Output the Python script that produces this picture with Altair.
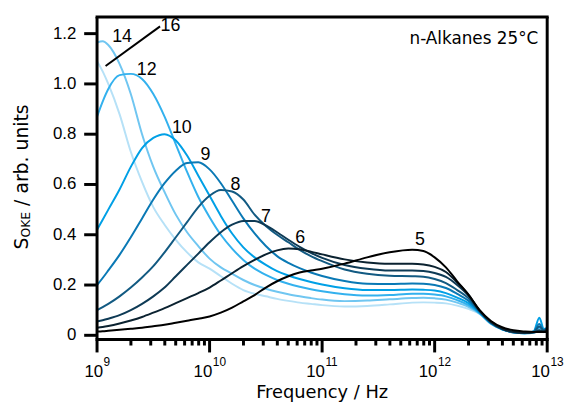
import altair as alt
import pandas as pd

# ---------------- data ----------------
log_freq = [9.0, 9.05, 9.1, 9.2, 9.3, 9.4, 9.5, 9.6, 9.7, 9.8, 9.9, 10.0, 10.1, 10.2, 10.3,
            10.4, 10.5, 10.6, 10.7, 10.8, 10.9, 11.0, 11.2, 11.4, 11.6, 11.8, 11.9, 12.0,
            12.1, 12.2, 12.3, 12.4, 12.5, 12.6, 12.7, 12.8, 12.88, 12.93, 12.97, 13.0]

s16 = [1.09, 1.05, 1.0, 0.88, 0.73, 0.61, 0.51, 0.44, 0.38, 0.33, 0.29, 0.265, 0.235, 0.205, 0.18,
       0.165, 0.155, 0.145, 0.137, 0.13, 0.125, 0.12, 0.115, 0.117, 0.123, 0.13, 0.131, 0.13,
       0.127, 0.118, 0.105, 0.085, 0.045, 0.023, 0.011, 0.008, 0.01, 0.015, 0.012, 0.02]
s14 = [1.165, 1.17, 1.155, 1.08, 0.96, 0.80, 0.67, 0.57, 0.48, 0.41, 0.355, 0.305, 0.27, 0.245, 0.22,
       0.2, 0.185, 0.173, 0.163, 0.155, 0.148, 0.142, 0.136, 0.138, 0.143, 0.148, 0.149, 0.147,
       0.142, 0.13, 0.113, 0.086, 0.046, 0.024, 0.012, 0.008, 0.01, 0.02, 0.015, 0.022]
s12 = [0.87, 0.93, 0.98, 1.035, 1.04, 1.02, 0.96, 0.87, 0.76, 0.65, 0.55, 0.47, 0.4, 0.345, 0.3,
       0.265, 0.24, 0.22, 0.205, 0.193, 0.183, 0.175, 0.163, 0.158, 0.16, 0.165, 0.165, 0.162,
       0.155, 0.14, 0.12, 0.088, 0.047, 0.024, 0.012, 0.008, 0.012, 0.03, 0.018, 0.025]
s10 = [0.42, 0.46, 0.5, 0.58, 0.67, 0.745, 0.785, 0.80, 0.775, 0.715, 0.635, 0.555, 0.475, 0.405, 0.35,
       0.31, 0.28, 0.255, 0.238, 0.224, 0.212, 0.202, 0.187, 0.18, 0.18, 0.182, 0.181, 0.178,
       0.168, 0.15, 0.128, 0.09, 0.048, 0.024, 0.012, 0.008, 0.015, 0.07, 0.025, 0.03]
s9 = [0.2, 0.228, 0.258, 0.32, 0.39, 0.465, 0.54, 0.605, 0.655, 0.685, 0.688, 0.66, 0.605, 0.535, 0.465,
      0.405, 0.355, 0.315, 0.288, 0.267, 0.25, 0.236, 0.216, 0.205, 0.204, 0.206, 0.205, 0.2,
      0.188, 0.165, 0.138, 0.093, 0.049, 0.025, 0.012, 0.009, 0.015, 0.045, 0.02, 0.028]
s8 = [0.1, 0.112, 0.125, 0.155, 0.19, 0.23, 0.275, 0.33, 0.39, 0.45, 0.51, 0.555, 0.578, 0.572, 0.54,
      0.48, 0.435, 0.4, 0.37, 0.34, 0.315, 0.295, 0.262, 0.245, 0.237, 0.235, 0.233, 0.224,
      0.208, 0.18, 0.148, 0.095, 0.05, 0.025, 0.012, 0.009, 0.013, 0.035, 0.02, 0.03]
s7 = [0.055, 0.06, 0.066, 0.08, 0.1, 0.125, 0.155, 0.19, 0.235, 0.28, 0.325, 0.37, 0.41, 0.44, 0.455,
      0.455, 0.437, 0.41, 0.38, 0.352, 0.328, 0.308, 0.28, 0.265, 0.258, 0.258, 0.256, 0.248,
      0.232, 0.2, 0.158, 0.097, 0.052, 0.026, 0.013, 0.009, 0.012, 0.02, 0.015, 0.025]
s6 = [0.03, 0.033, 0.037, 0.047, 0.059, 0.073, 0.09, 0.108, 0.128, 0.148, 0.168, 0.19, 0.218, 0.247, 0.275,
      0.3, 0.322, 0.338, 0.345, 0.342, 0.333, 0.322, 0.302, 0.29, 0.285, 0.285, 0.282, 0.272,
      0.252, 0.21, 0.162, 0.098, 0.054, 0.027, 0.014, 0.01, 0.012, 0.015, 0.015, 0.02]
s5 = [0.015, 0.016, 0.018, 0.022, 0.026, 0.03, 0.036, 0.042, 0.05, 0.058, 0.066, 0.075, 0.09, 0.11, 0.135,
      0.16, 0.19, 0.215, 0.235, 0.25, 0.258, 0.265, 0.285, 0.31, 0.33, 0.34, 0.335, 0.31,
      0.27, 0.215, 0.162, 0.1, 0.057, 0.032, 0.02, 0.015, 0.013, 0.013, 0.013, 0.014]

series_names = ["16", "14", "12", "10", "9", "8", "7", "6", "5"]
series_values = [s16, s14, s12, s10, s9, s8, s7, s6, s5]
series_colors = ["#b6e1f7", "#70c6f1", "#33b1ee", "#00a0e6", "#0a79b5",
                 "#125a82", "#0e3a55", "#0b2230", "#000000"]

label_text = ["14", "16", "12", "10", "9", "8", "7", "6", "5"]
label_logf = [9.222, 9.652, 9.441, 9.753, 9.964, 10.23, 10.50, 10.805, 11.87]
label_value = [1.187, 1.229, 1.055, 0.823, 0.716, 0.598, 0.472, 0.387, 0.380]

leader_logf = [9.076, 9.56]
leader_value = [1.071, 1.229]

y_ticks = [0, 0.2, 0.4, 0.6, 0.8, 1.0, 1.2]
y_tick_labels = ["0", "0.2", "0.4", "0.6", "0.8", "1.0", "1.2"]
decade_exp = [9, 10, 11, 12, 13]
minor_mult = [2, 3, 4, 5, 6, 7, 8, 9]

FONT = "Liberation Sans"
TFONT = "DejaVu Sans"

# framed plot box (pixels) and value range shown inside it
FW, FH = 455, 326
Y0, Y1 = -0.017, 1.266
PPU = FH / (Y1 - Y0)          # pixels per value unit
PPD = FW / 4.0                # pixels per decade
EXT = 14                      # room left of / below the frame for the outward ticks
W, H = FW + EXT, FH + EXT     # drawing area handed to Vega-Lite

x_scale = alt.Scale(type="log", domain=[10.0 ** (9 - EXT / PPD), 1e13])
y_scale = alt.Scale(domain=[Y0 - EXT / PPU, Y1])


def X(field="freq:Q"):
    return alt.X(field, scale=x_scale, axis=None)


def Y(field="value:Q"):
    return alt.Y(field, scale=y_scale, axis=None)


layers = []
for name, vals, col in zip(series_names, series_values, series_colors):
    d = pd.DataFrame({"freq": [10.0 ** L for L in log_freq], "value": vals})
    layers.append(alt.Chart(d).mark_line(strokeWidth=2, interpolate="monotone", color=col)
                  .encode(x=X(), y=Y()))

one = pd.DataFrame({"k": [0]})

# plot frame, drawn at the limits of the frequency / value ranges
fx = 1.5 / PPD
fy = 1.5 / PPU
frame_h = pd.DataFrame({"freq": [10.0 ** (9 - fx)] * 2, "freq2": [10.0 ** (13 + fx)] * 2,
                        "value": [Y0, Y1]})
frame_v = pd.DataFrame({"freq": [1e9, 1e13], "value": [Y0, Y0], "value2": [Y1, Y1]})
frame = [
    alt.Chart(frame_h).mark_rule(strokeWidth=3, color="black").encode(x=X(), x2="freq2:Q", y=Y()),
    alt.Chart(frame_v).mark_rule(strokeWidth=3, color="black").encode(x=X(), y=Y(), y2="value2:Q"),
]

# frequency-axis ticks (outward): major at decades, minor at 2..9 x decade
tick_f = [10.0 ** e for e in decade_exp] + [m * 10.0 ** e for e in decade_exp[:-1] for m in minor_mult]
tick_len = [13] * len(decade_exp) + [6] * (len(tick_f) - len(decade_exp))
xt_df = pd.DataFrame({"freq": tick_f, "value": [Y0] * len(tick_f),
                      "value2": [Y0 - L / PPU for L in tick_len]})
xticks = alt.Chart(xt_df).mark_rule(strokeWidth=3, color="black").encode(
    x=X(), y=Y(), y2="value2:Q")

# value-axis ticks (outward) and labels
yt_df = pd.DataFrame({"freq": [1e9] * len(y_ticks), "freq2": [10.0 ** (9 - 13 / PPD)] * len(y_ticks),
                      "value": y_ticks, "t": y_tick_labels})
yticks = alt.Chart(yt_df).mark_rule(strokeWidth=3, color="black").encode(
    x=X(), x2="freq2:Q", y=Y())
ylabels = alt.Chart(yt_df).mark_text(font=FONT, fontSize=17, color="black", align="right",
                                     baseline="middle", dx=-21).encode(
    x=X(), y=Y(), text="t:N")

# curve labels
lab_df = pd.DataFrame({"freq": [10.0 ** L for L in label_logf], "value": label_value, "t": label_text})
labels = alt.Chart(lab_df).mark_text(font=FONT, fontSize=18, color="black", align="center",
                                     baseline="middle").encode(x=X(), y=Y(), text="t:N")

lead_df = pd.DataFrame({"freq": [10.0 ** leader_logf[0]], "freq2": [10.0 ** leader_logf[1]],
                        "value": [leader_value[0]], "value2": [leader_value[1]]})
leader = alt.Chart(lead_df).mark_rule(strokeWidth=2, color="black").encode(
    x=X(), x2="freq2:Q", y=Y(), y2="value2:Q")

# decade tick labels: "10" with superscript exponent
dec1 = pd.DataFrame({"freq": [10.0 ** e for e in decade_exp if e < 10],
                     "e": [str(e) for e in decade_exp if e < 10]})
dec2 = pd.DataFrame({"freq": [10.0 ** e for e in decade_exp if e >= 10],
                     "e": [str(e) for e in decade_exp if e >= 10]})
tick_parts = []
for dd, n_dig in ((dec1, 1), (dec2, 2)):
    we = 6.7 * n_dig
    tick_parts.append(alt.Chart(dd).mark_text(font=FONT, fontSize=17, color="black", align="center",
                                              baseline="alphabetic", dx=-we / 2).encode(
        x=X(), y=alt.value(FH + 38), text=alt.value("10")))
    tick_parts.append(alt.Chart(dd).mark_text(font=FONT, fontSize=12, color="black", align="left",
                                              baseline="alphabetic", dx=9.5 - we / 2 + 0.5).encode(
        x=X(), y=alt.value(FH + 27), text="e:N"))

x_title = alt.Chart(one).mark_text(font=TFONT, fontSize=18, color="black", align="center",
                                   baseline="alphabetic").encode(
    x=alt.value(EXT + FW / 2), y=alt.value(FH + 59), text=alt.value("Frequency / Hz"))

yt_x = EXT - 76
yb = 235
y_t1 = alt.Chart(one).mark_text(font=TFONT, fontSize=19, color="black", align="left", baseline="middle",
                                angle=270).encode(x=alt.value(yt_x), y=alt.value(yb), text=alt.value("S"))
y_t2 = alt.Chart(one).mark_text(font=TFONT, fontSize=12.5, color="black", align="left", baseline="middle",
                                angle=270).encode(x=alt.value(yt_x + 4.5), y=alt.value(yb - 12.1),
                                                  text=alt.value("OKE"))
y_t3 = alt.Chart(one).mark_text(font=TFONT, fontSize=19, color="black", align="left", baseline="middle",
                                angle=270).encode(x=alt.value(yt_x), y=alt.value(yb - 12.1 - 26.0 - 6.0),
                                                  text=alt.value("/ arb. units"))

inset = alt.Chart(one).mark_text(font=TFONT, fontSize=17, color="black", align="right",
                                 baseline="alphabetic").encode(
    x=alt.value(EXT + 446), y=alt.value(27), text=alt.value("n-Alkanes 25°C"))

chart = alt.layer(*layers, *frame, xticks, yticks, ylabels, leader, labels, *tick_parts,
                  x_title, y_t1, y_t2, y_t3, inset).properties(
    width=W, height=H,
    padding={"left": 90 - EXT, "top": 7, "right": 18, "bottom": 66 - EXT},
    autosize=alt.AutoSizeParams(type="none"),
).configure(font=FONT).configure_view(stroke="transparent", strokeWidth=0)

chart.save("out.html", embed_options={"renderer": "svg", "actions": False})
